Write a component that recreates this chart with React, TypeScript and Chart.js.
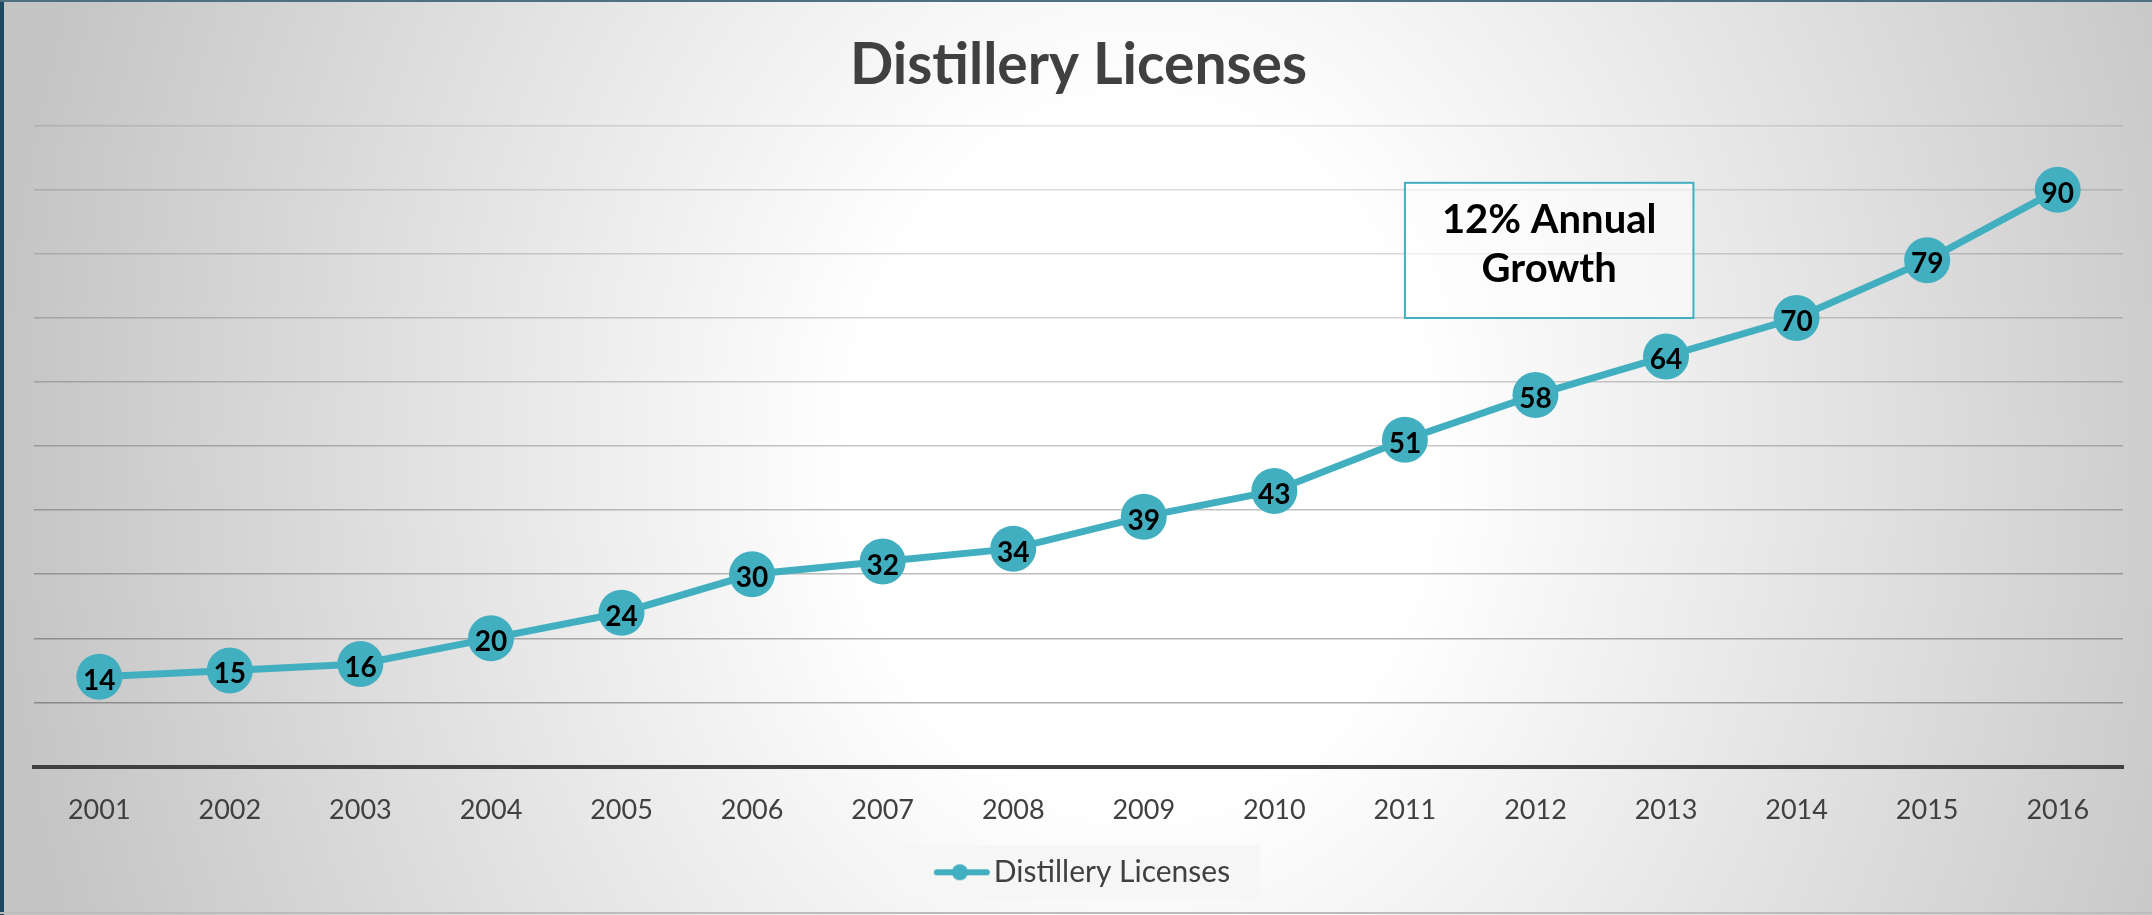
import React, { useEffect, useRef } from "react";
import { Chart, registerables } from "chart.js";

Chart.register(...registerables);

// ---- data ----
const categories = [
  "2001", "2002", "2003", "2004", "2005", "2006", "2007", "2008",
  "2009", "2010", "2011", "2012", "2013", "2014", "2015", "2016",
];
const licenses = [14, 15, 16, 20, 24, 30, 32, 34, 39, 43, 51, 58, 64, 70, 79, 90];
const yMin = 0;
const yMax = 100;
const yStep = 10;
const chartTitle = "Distillery Licenses";
const seriesName = "Distillery Licenses";
const noteLines = ["12% Annual", "Growth"];
// note box extent in data units (category index, value)
const noteXRange = [10, 12.21];
const noteYRange = [70, 91.1];

// ---- styles ----
const TEAL = "#42AFC0";
const TEXT = "#404040";
const FONT = "Lato, 'Open Sans', sans-serif";

export default function App() {
  const canvasRef = useRef<HTMLCanvasElement | null>(null);

  useEffect(() => {
    document.body.style.margin = "0";
    const canvas = canvasRef.current;
    if (!canvas) return;

    // legend symbol: line with a dot
    const icon = document.createElement("canvas");
    icon.width = 76;
    icon.height = 18;
    const ic = icon.getContext("2d")!;
    ic.strokeStyle = TEAL;
    ic.lineWidth = 6;
    ic.lineCap = "round";
    ic.beginPath();
    ic.moveTo(22, 9);
    ic.lineTo(72, 9);
    ic.stroke();
    ic.fillStyle = TEAL;
    ic.beginPath();
    ic.arc(45, 9, 8, 0, Math.PI * 2);
    ic.fill();

    const legendBg = {
      id: "legendBg",
      beforeDraw(chart: any) {
        const lg = chart.legend;
        if (!lg || !lg.legendHitBoxes || !lg.legendHitBoxes.length) return;
        const hb = lg.legendHitBoxes[0];
        const ctx = chart.ctx;
        const cy = hb.top + 15;
        const left = hb.left - 29;
        const right = hb.left + hb.width + 30;
        ctx.save();
        ctx.fillStyle = "rgba(246,246,246,0.95)";
        ctx.fillRect(left, cy - 27, right - left, 54);
        ctx.restore();
      },
    };

    const noteBox = {
      id: "noteBox",
      beforeDatasetsDraw(chart: any) {
        const xs = chart.scales.x;
        const ys = chart.scales.y;
        const ctx = chart.ctx;
        const l = xs.getPixelForValue(noteXRange[0]);
        const r = xs.getPixelForValue(noteXRange[1]);
        const t = ys.getPixelForValue(noteYRange[1]);
        const b = ys.getPixelForValue(noteYRange[0]);
        ctx.save();
        ctx.fillStyle = "rgba(255,255,255,0.55)";
        ctx.fillRect(l, t, r - l, b - t);
        ctx.strokeStyle = TEAL;
        ctx.lineWidth = 2;
        ctx.strokeRect(l, t, r - l, b - t);
        ctx.fillStyle = "#000";
        ctx.font = `bold 40px ${FONT}`;
        ctx.textAlign = "center";
        ctx.textBaseline = "alphabetic";
        const cx = (l + r) / 2;
        ctx.fillText(noteLines[0], cx, t + 50);
        ctx.fillText(noteLines[1], cx, t + 99);
        ctx.restore();
      },
    };

    const dataLabels = {
      id: "dataLabels",
      afterDatasetsDraw(chart: any) {
        const ctx = chart.ctx;
        const meta = chart.getDatasetMeta(0);
        const data = chart.data.datasets[0].data as number[];
        ctx.save();
        ctx.fillStyle = "#000";
        ctx.font = `bold 28px ${FONT}`;
        ctx.textAlign = "center";
        ctx.textBaseline = "middle";
        meta.data.forEach((pt: any, i: number) => {
          ctx.fillText(String(data[i]), pt.x, pt.y + 4);
        });
        ctx.restore();
      },
    };

    const chart = new Chart(canvas, {
      type: "line",
      data: {
        labels: categories,
        datasets: [
          {
            label: seriesName,
            data: licenses,
            borderColor: TEAL,
            backgroundColor: TEAL,
            borderWidth: 7,
            pointRadius: 23,
            pointHoverRadius: 23,
            pointBackgroundColor: TEAL,
            pointBorderWidth: 0,
            pointStyle: "circle",
            tension: 0,
          },
        ],
      },
      options: {
        responsive: false,
        animation: false,
        devicePixelRatio: 1,
        layout: { padding: { left: 34, right: 29, top: 0, bottom: 17.7 } },
        plugins: {
          title: {
            display: true,
            text: chartTitle,
            color: TEXT,
            font: { family: FONT, size: 57, weight: "bold", lineHeight: 1.2 },
            padding: { top: 31, bottom: 26.4 },
          },
          legend: {
            display: true,
            position: "bottom",
            labels: {
              usePointStyle: true,
              pointStyle: icon as any,
              pointStyleWidth: 52,
              color: TEXT,
              padding: 2.4,
              font: { family: FONT, size: 30 },
            },
          },
          tooltip: { enabled: false },
        },
        scales: {
          x: {
            type: "category",
            offset: true,
            grid: { display: false, drawTicks: false },
            border: { display: true, color: "#404040", width: 4 },
            ticks: {
              color: TEXT,
              font: { family: FONT, size: 27 },
              padding: 28,
              maxRotation: 0,
              autoSkip: false,
            },
          },
          y: {
            min: yMin,
            max: yMax,
            ticks: { display: false, stepSize: yStep },
            border: { display: false },
            grid: {
              drawTicks: false,
              lineWidth: 1.6,
              color: (c: any) => {
                const v = c.tick ? c.tick.value : 0;
                if (v === 0) return "rgba(0,0,0,0)";
                const a = 0.33 - (v / yMax) * 0.22;
                return `rgba(0,0,0,${a.toFixed(3)})`;
              },
            },
          },
        },
      },
      plugins: [legendBg, noteBox, dataLabels],
    });

    return () => chart.destroy();
  }, []);

  return (
    <div
      style={{
        position: "relative",
        width: 2152,
        height: 915,
        overflow: "hidden",
        background:
          "radial-gradient(ellipse 1150px 1400px at 1140px 457px, #ffffff 25%, #c4c4c4 100%)",
      }}
    >
      <canvas
        ref={canvasRef}
        width={2152}
        height={915}
        style={{ position: "absolute", left: 0, top: 0, width: 2152, height: 915 }}
      />
      <div style={{ position: "absolute", left: 0, top: 0, width: 4, height: 915, background: "#1c4a62" }} />
      <div style={{ position: "absolute", left: 0, top: 0, width: 2152, height: 2, background: "#4f6f82" }} />
      <div style={{ position: "absolute", left: 0, top: 912, width: 2152, height: 2, background: "#bcbcbc" }} />
    </div>
  );
}
